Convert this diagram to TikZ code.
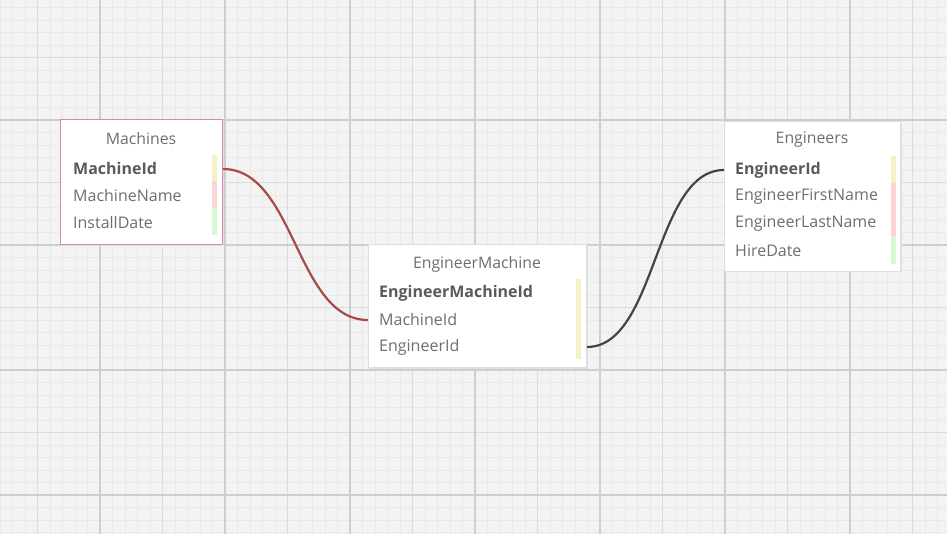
\documentclass[tikz,border=0pt]{standalone}
\usepackage{fontspec}
\setmainfont{Open Sans}
\usetikzlibrary{calc}
\definecolor{bgc}{HTML}{F3F3F3}
\definecolor{minorc}{HTML}{E8E8E8}
\definecolor{medc}{HTML}{DCDCDC}
\definecolor{majc}{HTML}{CECECE}
\definecolor{txtc}{HTML}{6E6E6E}
\definecolor{boldc}{HTML}{5A5A5A}
\definecolor{pinkborder}{HTML}{D88AA6}
\definecolor{greyborder}{HTML}{DDDDDD}
\definecolor{barY}{HTML}{F5F1C4}
\definecolor{barP}{HTML}{FBD5D5}
\definecolor{barG}{HTML}{D9F7D3}
\definecolor{redline}{HTML}{A94A4A}
\definecolor{darkline}{HTML}{444444}
\tikzset{
  tbl/.style={draw=greyborder, fill=white, line width=1pt},
  tblsel/.style={draw=pinkborder, fill=white, line width=1pt},
  shadowbox/.style={fill=black!12, draw=none},
  ttl/.style={text=txtc, font=\fontsize{15.8}{18}\selectfont, inner sep=0pt},
  fld/.style={text=txtc, font=\fontsize{16}{18}\selectfont, anchor=west, inner sep=0pt},
  keyfld/.style={text=boldc, font=\fontsize{16}{18}\selectfont\bfseries, anchor=west, inner sep=0pt},
  rel/.style={line width=2.2pt},
}
\begin{document}
\begin{tikzpicture}[x=1pt,y=-1pt]
\useasboundingbox (0,0) rectangle (947,534);
\fill[bgc] (0,0) rectangle (947,534);
% grid
\foreach \x in {0,12.5,...,947} \draw[minorc, line width=0.8pt] (\x,0) -- (\x,534);
\foreach \y in {7.5,20,...,534} \draw[minorc, line width=0.8pt] (0,\y) -- (947,\y);
\foreach \x in {37.5,100,...,947} \draw[medc, line width=1pt] (\x,0) -- (\x,534);
\foreach \y in {57.5,120,...,534} \draw[medc, line width=1pt] (0,\y) -- (947,\y);
\foreach \x in {100,225,...,947} \draw[majc, line width=1.1pt] (\x,0) -- (\x,534);
\foreach \y in {-5,120,...,534} \draw[majc, line width=1.1pt] (0,\y) -- (947,\y);

% Machines
\fill[shadowbox] (61,120.5) rectangle (223.5,246);
\node[tblsel, minimum width=162pt, minimum height=125pt, anchor=north west, inner sep=0pt] (mtbl) at (60,119) {};
\node[ttl] (mtitle) at (141,139) {Machines};
\node[keyfld] (mid) at (73,169) {MachineId};
\node[fld] (mname) at (73,196) {MachineName};
\node[fld] (mdate) at (73,223) {InstallDate};
\fill[barY] (212,155) rectangle (216.5,181.5);
\fill[barP] (212,181.5) rectangle (216.5,208);
\fill[barG] (212,208) rectangle (216.5,235);

% EngineerMachine
\fill[shadowbox] (369,245.5) rectangle (587.5,368.5);
\node[tbl, minimum width=218pt, minimum height=123pt, anchor=north west, inner sep=0pt] (emtbl) at (368,244) {};
\node[ttl] (emtitle) at (477,264) {EngineerMachine};
\node[keyfld] (emid) at (379,293) {EngineerMachineId};
\node[fld] (emmid) at (379,320) {MachineId};
\node[fld] (emeid) at (379,347) {EngineerId};
\fill[barY] (576,279) rectangle (580.5,359);

% Engineers
\fill[shadowbox] (725,122.5) rectangle (901.5,272.5);
\node[tbl, minimum width=176pt, minimum height=150pt, anchor=north west, inner sep=0pt] (etbl) at (724,121) {};
\node[ttl] (etitle) at (812,140) {Engineers};
\node[keyfld] (eid) at (735,170) {EngineerId};
\node[fld] (efirst) at (735,197) {EngineerFirstName};
\node[fld] (elast) at (735,224) {EngineerLastName};
\node[fld] (ehire) at (735,251) {HireDate};
\fill[barY] (891,156) rectangle (895.5,183);
\fill[barP] (891,183) rectangle (895.5,236);
\fill[barG] (891,236) rectangle (895.5,264);

% connectors
\coordinate (a1) at (mtbl.east |- mid.center);
\coordinate (a2) at (emtbl.west |- emmid.center);
\coordinate (b1) at (emtbl.east |- emeid.center);
\coordinate (b2) at (etbl.west |- eid.center);
\draw[rel, redline] (a1) .. controls ($(a1)+(72,0)$) and ($(a2)+(-72,0)$) .. (a2);
\draw[rel, darkline] (b1) .. controls ($(b1)+(70,0)$) and ($(b2)+(-70,0)$) .. (b2);
\end{tikzpicture}
\end{document}
